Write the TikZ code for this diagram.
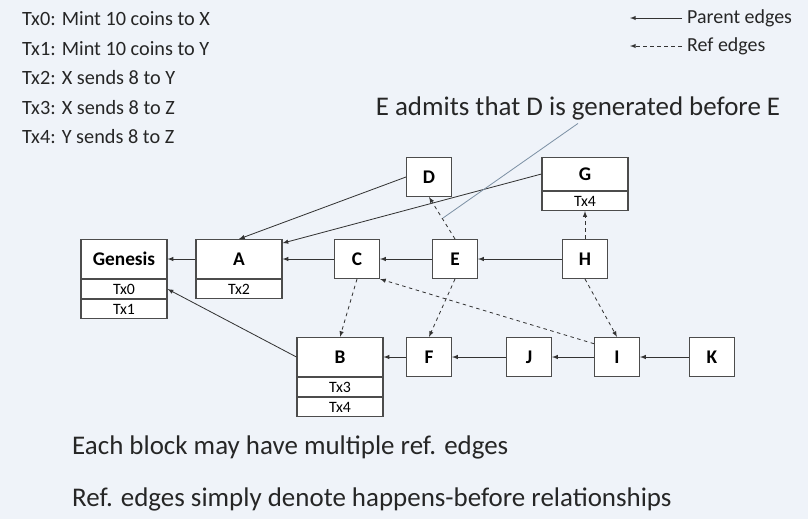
\documentclass[tikz,border=0pt]{standalone}
\usepackage{fontspec}
\setmainfont{Carlito}
\usetikzlibrary{positioning,arrows}
\definecolor{slidebg}{RGB}{239,243,249}
\definecolor{callout}{RGB}{125,145,165}

\tikzset{
  blk/.style={draw=black!70, fill=white, line width=0.9pt, minimum width=1.35cm, minimum height=1.17cm, inner sep=0pt, font=\bfseries\fontsize{16.5}{18}\selectfont},
  wideblk/.style={blk, minimum width=2.58cm},
  txrow/.style={draw=black!70, fill=white, line width=0.9pt, minimum width=2.58cm, minimum height=0.57cm, inner sep=0pt, font=\fontsize{13.5}{15}\selectfont},
  parent/.style={->, >=latex, line width=0.7pt, black!80},
  ref/.style={parent, dashed},
  note/.style={anchor=west, inner sep=0pt, text=black!85},
}

\begin{document}
\begin{tikzpicture}[x=0.03cm, y=-0.03cm]
    \fill[slidebg] (0,0) rectangle (808,519);
    \useasboundingbox (0,0) rectangle (808,519);

    % transactions
    \foreach \txt [count=\k from 0] in {Tx0: Mint 10 coins to X, Tx1: Mint 10 coins to Y, Tx2: X sends 8 to Y, Tx3: X sends 8 to Z, Tx4: Y sends 8 to Z}
        \node[note, font=\fontsize{17.3}{19}\selectfont] (tx\k) at (22, 19+29.5*\k) {\txt};

    % legend
    \coordinate (pe) at (682,18);
    \coordinate (pb) at (630,18);
    \coordinate (re) at (682,46);
    \coordinate (rb) at (630,46);
    \draw[parent] (pe) -- (pb);
    \draw[ref] (re) -- (rb);
    \node[note, font=\fontsize{17}{19}\selectfont] (plbl) at (687,18) {Parent edges};
    \node[note, font=\fontsize{17}{19}\selectfont] (rlbl) at (687,46) {Ref edges};

    % blocks
    \node[wideblk] (gen) at (124,259) {Genesis};
    \node[txrow, below=0pt of gen] (gen0) {Tx0};
    \node[txrow, below=0pt of gen0] (gen1) {Tx1};
    \node[wideblk] (A) at (239,259) {A};
    \node[txrow, below=0pt of A] (A2) {Tx2};
    \node[blk] (C) at (357,259) {C};
    \node[blk] (E) at (455,259) {E};
    \node[blk] (D) at (429,177) {D};
    \node[wideblk, minimum height=0.99cm] (G) at (585,174) {G};
    \node[txrow, below=0pt of G] (G4) {Tx4};
    \node[blk] (H) at (585,259) {H};
    \node[wideblk] (B) at (340,357) {B};
    \node[txrow, below=0pt of B] (B3) {Tx3};
    \node[txrow, below=0pt of B3] (B4) {Tx4};
    \node[blk] (F) at (429,357) {F};
    \node[blk] (J) at (529,357) {J};
    \node[blk] (I) at (617,357) {I};
    \node[blk] (K) at (712,357) {K};

    % parent edges
    \draw[parent] (A) -- (gen);
    \draw[parent] (C) -- (A);
    \draw[parent] (E) -- (C);
    \draw[parent] (H) -- (E);
    \draw[parent] (D.west) -- (A.north);
    \draw[parent] (G.west) -- (A.20);
    \draw[parent] (B.west) -- (gen0.east);
    \draw[parent] (F) -- (B);
    \draw[parent] (J) -- (F);
    \draw[parent] (I) -- (J);
    \draw[parent] (K) -- (I);

    % ref edges
    \draw[ref] (E.north) -- (D.south);
    \draw[ref] (H.north) -- (G4.south);
    \draw[ref] (C.south) -- (B.north);
    \draw[ref] (E.south) -- (F.north);
    \draw[ref] (H.south) -- (I.north);
    \draw[ref] (I.150) -- (C.south east);

    % notes
    \node[note, anchor=center, font=\fontsize{23}{26}\selectfont] (cap) at (578,108) {E admits that D is generated before E};
    \coordinate (tip) at (443,218);
    \draw[callout, line width=0.7pt] ([yshift=-3pt]cap.south) -- (tip);
    \node[note, font=\fontsize{23}{26}\selectfont] (n1) at (72,447) {Each block may have multiple ref. edges};
    \node[note, font=\fontsize{23}{26}\selectfont] (n2) at (72,499) {Ref. edges simply denote happens-before relationships};
\end{tikzpicture}
\end{document}
